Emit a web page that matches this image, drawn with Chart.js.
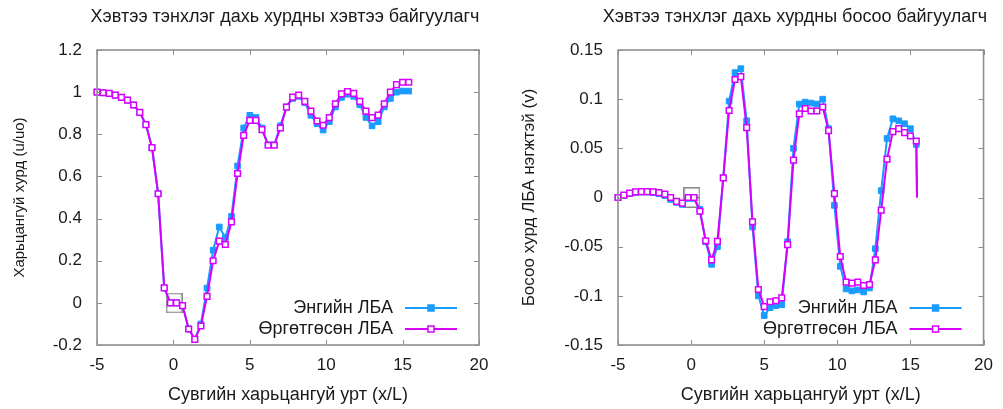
<!DOCTYPE html>
<html>
<head>
<meta charset="utf-8">
<script src="https://cdn.jsdelivr.net/npm/chart.js@4.4.1/dist/chart.umd.min.js"></script>
<style>
  html, body { margin: 0; padding: 0; background: #fff; }
  #wrap { display: flex; width: 1003px; height: 409px; }
  .box { position: relative; height: 409px; }
</style>
</head>
<body>
<div id="wrap">
  <div class="box" style="width:502px"><canvas id="chartU"></canvas></div>
  <div class="box" style="width:501px"><canvas id="chartV"></canvas></div>
</div>
<script>
// --- DATA ---
const xPos = [-5, -4.6, -4.2, -3.8, -3.4, -3.0, -2.6, -2.2, -1.8, -1.4, -1.0, -0.6, -0.2,
  0.2, 0.6, 1.0, 1.4, 1.8, 2.2, 2.6, 3.0, 3.4, 3.8, 4.2, 4.6, 5.0, 5.4, 5.8, 6.2, 6.6,
  7.0, 7.4, 7.8, 8.2, 8.6, 9.0, 9.4, 9.8, 10.2, 10.6, 11.0, 11.4, 11.8, 12.2, 12.6, 13.0,
  13.4, 13.8, 14.2, 14.6, 15.0, 15.4];

// horizontal component u/uo
const uPlain = [1.0, 0.997, 0.994, 0.986, 0.975, 0.962, 0.939, 0.904, 0.846, 0.737, 0.518, 0.071, 0.0,
  0.0, -0.013, -0.124, -0.173, -0.10, 0.07, 0.25, 0.36, 0.31, 0.41, 0.65, 0.83, 0.89, 0.88, 0.83, 0.75, 0.75,
  0.84, 0.93, 0.97, 0.98, 0.95, 0.89, 0.85, 0.82, 0.86, 0.93, 0.975, 0.99, 0.98, 0.94, 0.88, 0.84,
  0.86, 0.93, 0.97, 1.0, 1.005, 1.005];
const uTrained = [1.0, 0.997, 0.994, 0.986, 0.975, 0.962, 0.939, 0.904, 0.846, 0.737, 0.518, 0.071, 0.0,
  0.0, -0.013, -0.124, -0.173, -0.11, 0.031, 0.2, 0.293, 0.277, 0.384, 0.614, 0.795, 0.866, 0.866, 0.822, 0.748, 0.748,
  0.83, 0.929, 0.976, 0.986, 0.956, 0.91, 0.863, 0.843, 0.879, 0.945, 0.992, 1.003, 0.994, 0.956, 0.91, 0.879,
  0.891, 0.945, 1.0, 1.036, 1.047, 1.047];

// vertical component v (last point drops back to 0 at the outlet)
const xPosV = xPos.concat([15.45]);
const vPlain = [0, 0.002, 0.004, 0.005, 0.0055, 0.0055, 0.005, 0.004, 0.002, -0.002, -0.005, -0.007, -0.001,
  -0.001, -0.012, -0.045, -0.068, -0.05, 0.02, 0.098, 0.127, 0.131, 0.078, -0.03, -0.1, -0.12, -0.112, -0.11, -0.109, -0.045,
  0.05, 0.095, 0.097, 0.096, 0.095, 0.1, 0.07, -0.008, -0.07, -0.093, -0.095, -0.094, -0.096, -0.092, -0.052, 0.007,
  0.06, 0.08, 0.078, 0.075, 0.07, 0.054, 0];
const vTrained = [0, 0.0024, 0.0044, 0.0057, 0.006, 0.006, 0.0057, 0.005, 0.0034, 0, -0.004, -0.0057, 0,
  0, -0.014, -0.044, -0.0635, -0.0446, 0.02, 0.0885, 0.12, 0.123, 0.071, -0.0247, -0.0936, -0.111, -0.106, -0.105, -0.102, -0.048,
  0.038, 0.085, 0.0905, 0.088, 0.088, 0.092, 0.068, 0.004, -0.06, -0.086, -0.087, -0.086, -0.0895, -0.0885, -0.0635, -0.013,
  0.039, 0.067, 0.070, 0.066, 0.0625, 0.0575, 0];

// grey body markers near x = 0
const bodyX = [0.05, 0.05];
const bodyU = [0.023, -0.024];
const bodyV = [0.005, -0.005];

const xTicks = [-5, 0, 5, 10, 15, 20];
const uTicks = [-0.2, 0, 0.2, 0.4, 0.6, 0.8, 1.0, 1.2];
const vTicks = [-0.15, -0.1, -0.05, 0, 0.05, 0.1, 0.15];

const seriesNames = ['Энгийн ЛБА', 'Өргөтгөсөн ЛБА'];

// --- STYLE ---
const BLUE = '#1a9cff';
const MAGENTA = '#d600ff';
const FONT = "'Liberation Sans', Arial, sans-serif";
const TEXT = '#1a1a1a';

function pts(xs, ys) { return ys.map((y, i) => ({ x: xs[i], y: y })); }

// small grey rectangle used as point style for the body markers
const bodyImg = document.createElement('canvas');
bodyImg.width = 17; bodyImg.height = 11;
(function () {
  const c = bodyImg.getContext('2d');
  c.strokeStyle = '#8a8a8a';
  c.lineWidth = 1.5;
  c.strokeRect(0.75, 0.75, 15.5, 9.5);
})();

// border, inward mirror ticks and the in-plot legend
const framePlugin = {
  id: 'frame',
  afterDatasetsDraw(chart) {
    const { ctx, chartArea: a } = chart;
    const xs = chart.scales.x, ys = chart.scales.y;
    ctx.save();
    ctx.strokeStyle = '#8c8c8c';
    ctx.lineWidth = 1;
    ctx.beginPath();
    xs.ticks.forEach(t => {
      const px = Math.round(xs.getPixelForValue(t.value)) + 0.5;
      ctx.moveTo(px, a.bottom); ctx.lineTo(px, a.bottom - 5);
      ctx.moveTo(px, a.top); ctx.lineTo(px, a.top + 5);
    });
    ys.ticks.forEach(t => {
      const py = Math.round(ys.getPixelForValue(t.value)) + 0.5;
      ctx.moveTo(a.left, py); ctx.lineTo(a.left + 5, py);
      ctx.moveTo(a.right, py); ctx.lineTo(a.right - 5, py);
    });
    ctx.stroke();
    ctx.lineWidth = 1.6;
    ctx.strokeStyle = '#909090';
    ctx.strokeRect(a.left, a.top, a.right - a.left, a.bottom - a.top);

    // legend, gnuplot style: text left of the sample
    const rows = [
      { name: seriesNames[0], color: BLUE, fill: BLUE, y: a.bottom - 37 },
      { name: seriesNames[1], color: MAGENTA, fill: '#ffffff', y: a.bottom - 16 }
    ];
    ctx.font = '18px ' + FONT;
    ctx.textAlign = 'right';
    ctx.textBaseline = 'middle';
    rows.forEach(r => {
      ctx.fillStyle = TEXT;
      ctx.fillText(r.name, a.right - 86, r.y);
      ctx.strokeStyle = r.color;
      ctx.lineWidth = 2;
      ctx.beginPath();
      ctx.moveTo(a.right - 74, r.y); ctx.lineTo(a.right - 22, r.y);
      ctx.stroke();
      ctx.fillStyle = r.fill;
      ctx.lineWidth = 1.5;
      ctx.fillRect(a.right - 51, r.y - 3, 6, 6);
      ctx.strokeRect(a.right - 51, r.y - 3, 6, 6);
    });

    // chart title
    const o = chart.options.plugins.frame;
    ctx.fillStyle = TEXT;
    ctx.textAlign = 'center';
    ctx.font = '18px ' + FONT;
    ctx.fillText(o.title, o.titleX, 17);
    ctx.restore();
  }
};

function makeChart(id, cfg) {
  return new Chart(document.getElementById(id), {
    type: 'line',
    data: {
      datasets: [
        {
          label: seriesNames[1],
          data: pts(cfg.xs, cfg.trained),
          borderColor: MAGENTA,
          backgroundColor: '#ffffff',
          borderWidth: 2,
          pointStyle: 'rect',
          pointRadius: c => c.dataIndex >= cfg.markCount ? 0 : 4,
          pointBorderWidth: 1.5,
          tension: 0,
          clip: false
        },
        {
          label: seriesNames[0],
          data: pts(cfg.xs, cfg.plain),
          borderColor: BLUE,
          backgroundColor: BLUE,
          borderWidth: 2,
          pointStyle: 'rect',
          pointRadius: c => c.dataIndex >= cfg.markCount ? 0 : 4,
          pointBorderWidth: 1,
          tension: 0,
          clip: false
        },
        {
          label: 'body',
          data: pts(bodyX, cfg.body),
          showLine: false,
          pointStyle: bodyImg,
          pointRadius: 6,
          clip: false
        }
      ]
    },
    options: {
      responsive: true,
      maintainAspectRatio: false,
      animation: false,
      events: [],
      layout: { padding: { left: 0, top: 50, right: cfg.padRight, bottom: 0 } },
      plugins: {
        legend: { display: false },
        tooltip: { enabled: false },
        frame: { title: cfg.title, titleX: cfg.titleX }
      },
      scales: {
        x: {
          type: 'linear',
          min: -5, max: 20,
          afterBuildTicks: s => { s.ticks = xTicks.map(v => ({ value: v })); },
          afterFit: s => { s.height = 64; },
          grid: { display: false, drawTicks: false },
          border: { display: false },
          ticks: { color: TEXT, font: { family: FONT, size: 17 }, padding: 10 },
          title: {
            display: true, text: 'Сувгийн харьцангуй урт (x/L)', color: TEXT,
            font: { family: FONT, size: 18 }, padding: { top: 0, bottom: 3 }
          }
        },
        y: {
          type: 'linear',
          min: cfg.yMin, max: cfg.yMax,
          afterBuildTicks: s => { s.ticks = cfg.yTicks.map(v => ({ value: v })); },
          afterFit: s => { s.width = cfg.yWidth; },
          grid: { display: false, drawTicks: false },
          border: { display: false },
          ticks: {
            color: TEXT, font: { family: FONT, size: 17 }, padding: 15,
            callback: v => String(Math.round(v * 100) / 100)
          },
          title: {
            display: true, text: cfg.yTitle, color: TEXT,
            font: { family: FONT, size: cfg.yTitleSize }, padding: { top: cfg.yTitlePad, bottom: 0 }
          }
        }
      }
    },
    plugins: [framePlugin]
  });
}

makeChart('chartU', {
  xs: xPos, plain: uPlain, trained: uTrained, body: bodyU, markCount: 52,
  yMin: -0.2, yMax: 1.2, yTicks: uTicks, yWidth: 97, padRight: 23,
  yTitle: 'Харьцангуй хурд (u/uo)', yTitleSize: 15, yTitlePad: 11,
  title: 'Хэвтээ тэнхлэг дахь хурдны хэвтээ байгуулагч', titleX: 285
});

makeChart('chartV', {
  xs: xPosV, plain: vPlain, trained: vTrained, body: bodyV, markCount: 52,
  yMin: -0.15, yMax: 0.15, yTicks: vTicks, yWidth: 116, padRight: 15,
  yTitle: 'Босоо хурд ЛБА нэгжтэй (v)', yTitleSize: 17, yTitlePad: 17,
  title: 'Хэвтээ тэнхлэг дахь хурдны босоо байгуулагч', titleX: 293
});
</script>
</body>
</html>
